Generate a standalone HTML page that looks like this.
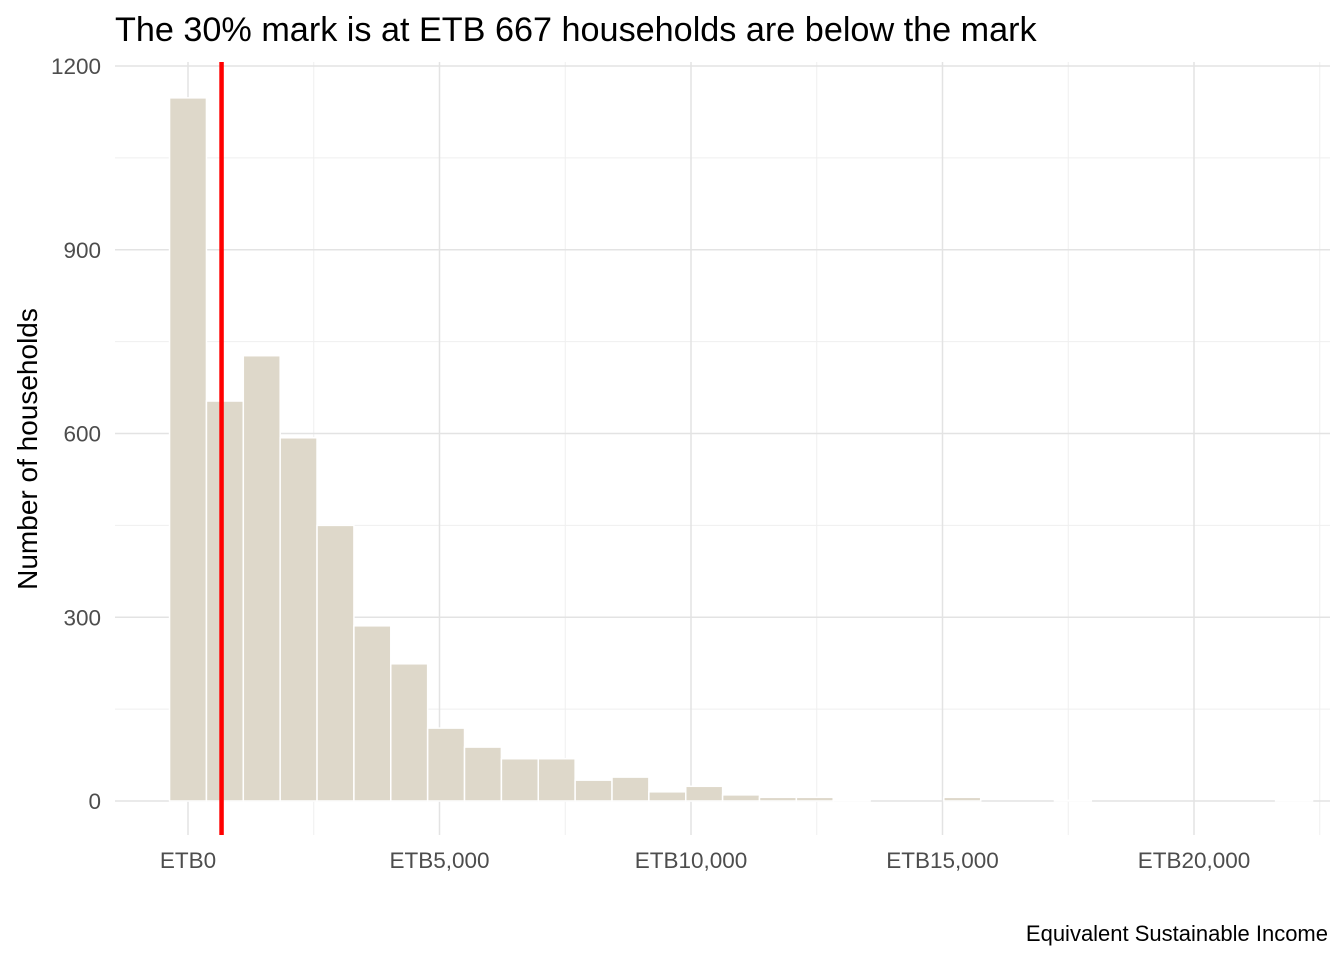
<!DOCTYPE html>
<html><head><meta charset="utf-8"><style>
body{margin:0;background:#fff;}
svg{font-family:"Liberation Sans",Arial,sans-serif;}
</style></head><body>
<svg id="chart" width="1344" height="960">
<text x="115" y="41" font-size="34.2" fill="#000">The 30% mark is at ETB 667 households are below the mark</text>
<g id="grid"></g><g id="bars"></g><g id="axes"></g>
<text transform="translate(37,449) rotate(-90)" text-anchor="middle" font-size="28" fill="#000">Number of households</text>
<text x="1328" y="941" text-anchor="end" font-size="22" fill="#000">Equivalent Sustainable Income</text>
</svg>
<script>
const binWidth = 733;
const counts = [1148,653,727,593,450,286,224,119,88,69,69,34,39,15,24,10,6,6,2,0,0,6,0,0,1,0,0,0,0,0,1];
const markValue = 667;
const yTicks = [0,300,600,900,1200];
const yMinor = [150,450,750,1050];
const xTicks = [0,5000,10000,15000,20000];
const xTickLabels = ["ETB0","ETB5,000","ETB10,000","ETB15,000","ETB20,000"];
const xMinor = [2500,7500,12500,17500,22500];

const NS="http://www.w3.org/2000/svg";
const X=v=>188+v*0.05030;
const Y=v=>801-v*0.6125;
const pTop=62,pBot=835,pLeft=115,pRight=1330;
function mk(tag,attrs,parent){const e=document.createElementNS(NS,tag);for(const k in attrs)e.setAttribute(k,attrs[k]);parent.appendChild(e);return e;}
const grid=document.getElementById('grid'),bars=document.getElementById('bars'),axes=document.getElementById('axes');
yMinor.forEach(v=>{const l=mk('line',{x1:pLeft,x2:pRight,y1:Y(v),y2:Y(v),stroke:'#efefef','stroke-width':1},grid);

});
xMinor.forEach(v=>{const l=mk('line',{x1:X(v),x2:X(v),y1:pTop,y2:pBot,stroke:'#efefef','stroke-width':1},grid);

});
yTicks.forEach(v=>{const l=mk('line',{x1:pLeft,x2:pRight,y1:Y(v),y2:Y(v),stroke:'#e3e3e3','stroke-width':1.5},grid);


const t=mk('text',{x:101,y:Y(v)+8,'text-anchor':'end','font-size':22.5,fill:'#4d4d4d'},axes);t.textContent=v;

});
xTicks.forEach((v,i)=>{const l=mk('line',{x1:X(v),x2:X(v),y1:pTop,y2:pBot,stroke:'#e3e3e3','stroke-width':1.5},grid);


const t=mk('text',{x:X(v),y:868,'text-anchor':'middle','font-size':22.5,fill:'#4d4d4d'},axes);t.textContent=xTickLabels[i];

});
counts.forEach((c,k)=>{if(c<=0)return;const x0=X(k*binWidth-binWidth/2),x1=X(k*binWidth+binWidth/2);
const r=mk('rect',{x:x0,y:Y(c),width:x1-x0,height:Y(0)-Y(c),fill:'#ded8ca',stroke:'#fff','stroke-width':1.5},bars);

});
const m=mk('line',{x1:X(markValue),x2:X(markValue),y1:pTop,y2:pBot,stroke:'#ff0000','stroke-width':4.5},bars);


</script>
</body></html>
